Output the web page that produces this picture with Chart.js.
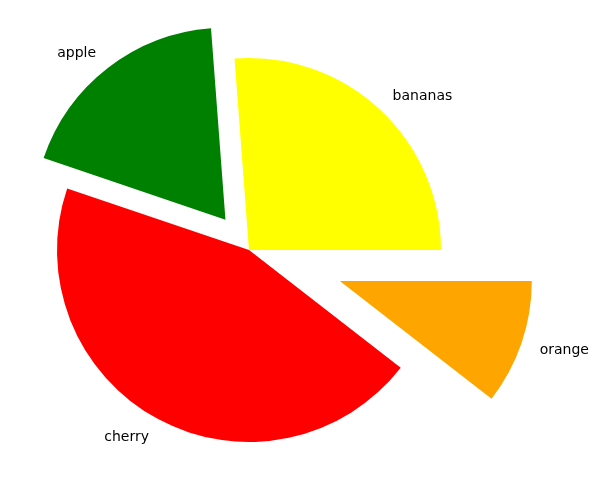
<!DOCTYPE html>
<html>
<head>
<meta charset="utf-8">
<script src="https://cdn.jsdelivr.net/npm/chart.js@4"></script>
<style>
  html, body { margin: 0; padding: 0; background: #fff; }
  #wrap { width: 599px; height: 499px; }
</style>
</head>
<body>
<div id="wrap"><canvas id="pie" width="599" height="499"></canvas></div>
<script>
// listed clockwise from the right (matplotlib draws them counter-clockwise)
const labels = ['orange', 'cherry', 'apple', 'bananas'];
const values = [10.5, 44.7, 18.6, 26.2];
const colors = ['#ffa500', '#ff0000', '#008000', '#ffff00'];
const explode = [0.5, 0, 0.2, 0]; // fraction of radius

const R = 192;

// push exploded wedges out along their middle angle, like matplotlib
const explodePlugin = {
  id: 'explode',
  beforeDatasetDraw(chart, args) {
    const meta = chart.getDatasetMeta(args.index);
    const ctx = chart.ctx;
    meta.data.forEach((arc, i) => {
      const mid = (arc.startAngle + arc.endAngle) / 2;
      const d = (explode[i] || 0) * arc.outerRadius;
      ctx.save();
      ctx.translate(Math.cos(mid) * d, Math.sin(mid) * d);
      arc.draw(ctx);
      ctx.restore();
    });
    return false;
  },
  afterDatasetsDraw(chart) {
    const meta = chart.getDatasetMeta(0);
    const ctx = chart.ctx;
    ctx.save();
    ctx.font = '14px "DejaVu Sans"';
    ctx.fillStyle = '#000';
    ctx.textBaseline = 'middle';
    meta.data.forEach((arc, i) => {
      const mid = (arc.startAngle + arc.endAngle) / 2;
      const r = arc.outerRadius * (1.1 + (explode[i] || 0));
      const x = arc.x + Math.cos(mid) * r;
      const y = arc.y + Math.sin(mid) * r + 1;
      ctx.textAlign = Math.cos(mid) >= 0 ? 'left' : 'right';
      ctx.fillText(labels[i], x, y);
    });
    ctx.restore();
  }
};

new Chart(document.getElementById('pie'), {
  type: 'pie',
  data: {
    labels,
    datasets: [{
      data: values,
      backgroundColor: colors,
      borderWidth: 0
    }]
  },
  options: {
    responsive: false,
    animation: false,
    rotation: 90,        // start at 3 o'clock
    radius: R,
    layout: { padding: { left: 0, right: 101, top: 2, bottom: 1 } },
    events: [],
    plugins: {
      legend: { display: false },
      tooltip: { enabled: false }
    }
  },
  plugins: [explodePlugin]
});
</script>
</body>
</html>
